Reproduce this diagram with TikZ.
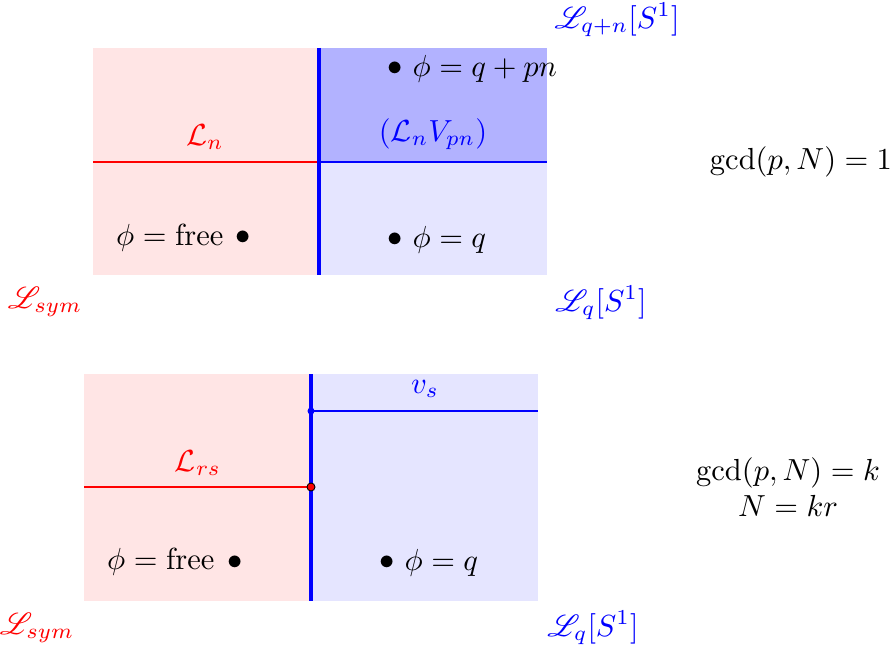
\documentclass[tikz,border=0pt]{standalone}
\usepackage{amsmath}
\usepackage{mathrsfs}
\begin{document}
\begin{tikzpicture}[x=0.328pt,y=-0.328pt,
  pinkfill/.style={fill=red!10,draw=none},
  bluefill/.style={fill=blue!10,draw=none},
  darkbluefill/.style={fill=blue!30,draw=none},
  wall/.style={blue,line width=1.6pt},
  redline/.style={red,line width=0.35pt},
  blueline/.style={blue,line width=0.35pt},
  lbl/.style={inner sep=0pt,anchor=center},
  dotmark/.style={inner sep=0pt,anchor=center}]
\useasboundingbox (0,0) rectangle (896,648);
% ---------- top panel ----------
\fill[pinkfill] (93,48) rectangle (319,275);
\fill[bluefill] (319,48) rectangle (547,275);
\fill[darkbluefill] (319,48) rectangle (547,162);
\coordinate (tl) at (93,162);
\coordinate (tm) at (319,162);
\coordinate (tr) at (547,162);
\coordinate (ttop) at (319,48);
\coordinate (tbot) at (319,275);
\draw[redline] (tl) -- (tm);
\draw[blueline] (tm) -- (tr);
\draw[wall] (ttop) -- (tbot);
\node[lbl,red] (Ln) at (205,137) {$\mathcal{L}_n$};
\node[lbl,blue] (LnV) at (433,134) {$(\mathcal{L}_nV_{pn})$};
\node[dotmark] (d1) at (395,69) {$\bullet$};
\node[lbl,anchor=west] (p1) at (412,69) {$\phi=q+pn$};
\node[lbl,anchor=east] (f1) at (224,238) {$\phi=\text{free}$};
\node[dotmark] (d2) at (243,238) {$\bullet$};
\node[dotmark] (d3) at (395,240) {$\bullet$};
\node[lbl,anchor=west] (q1) at (412,240) {$\phi=q$};
\node[lbl,blue] (Lqn) at (617,20) {$\mathscr{L}_{q+n}[S^1]$};
\node[lbl,red] (Ls1) at (45,302) {$\mathscr{L}_{sym}$};
\node[lbl,blue] (Lq1) at (601,303) {$\mathscr{L}_q[S^1]$};
\node[lbl] (g1) at (801,162) {$\gcd(p,N)=1$};
% ---------- bottom panel ----------
\fill[pinkfill] (84,374) rectangle (311,601);
\fill[bluefill] (311,374) rectangle (538,601);
\coordinate (bl) at (84,487);
\coordinate (bm) at (311,487);
\coordinate (bv) at (311,411);
\coordinate (br) at (538,411);
\coordinate (btop) at (311,374);
\coordinate (bbot) at (311,601);
\draw[redline] (bl) -- (bm);
\draw[blueline] (bv) -- (br);
\draw[wall] (btop) -- (bbot);
\fill[blue] (bv) circle (3.5);
\filldraw[fill=red,draw=black,line width=0.3pt] (bm) circle (4);
\node[lbl,blue] (vs) at (425,389) {$v_s$};
\node[lbl,red] (Lrs) at (198,463) {$\mathcal{L}_{rs}$};
\node[lbl,anchor=east] (f2) at (215,562) {$\phi=\text{free}$};
\node[dotmark] (d4) at (235,563) {$\bullet$};
\node[dotmark] (d5) at (387,563) {$\bullet$};
\node[lbl,anchor=west] (q2) at (404,563) {$\phi=q$};
\node[lbl,red] (Ls2) at (37,628) {$\mathscr{L}_{sym}$};
\node[lbl,blue] (Lq2) at (593,628) {$\mathscr{L}_q[S^1]$};
\node[lbl,align=center] (g2) at (788,487) {$\gcd(p,N)=k$\\$N=kr$};
\end{tikzpicture}
\end{document}
